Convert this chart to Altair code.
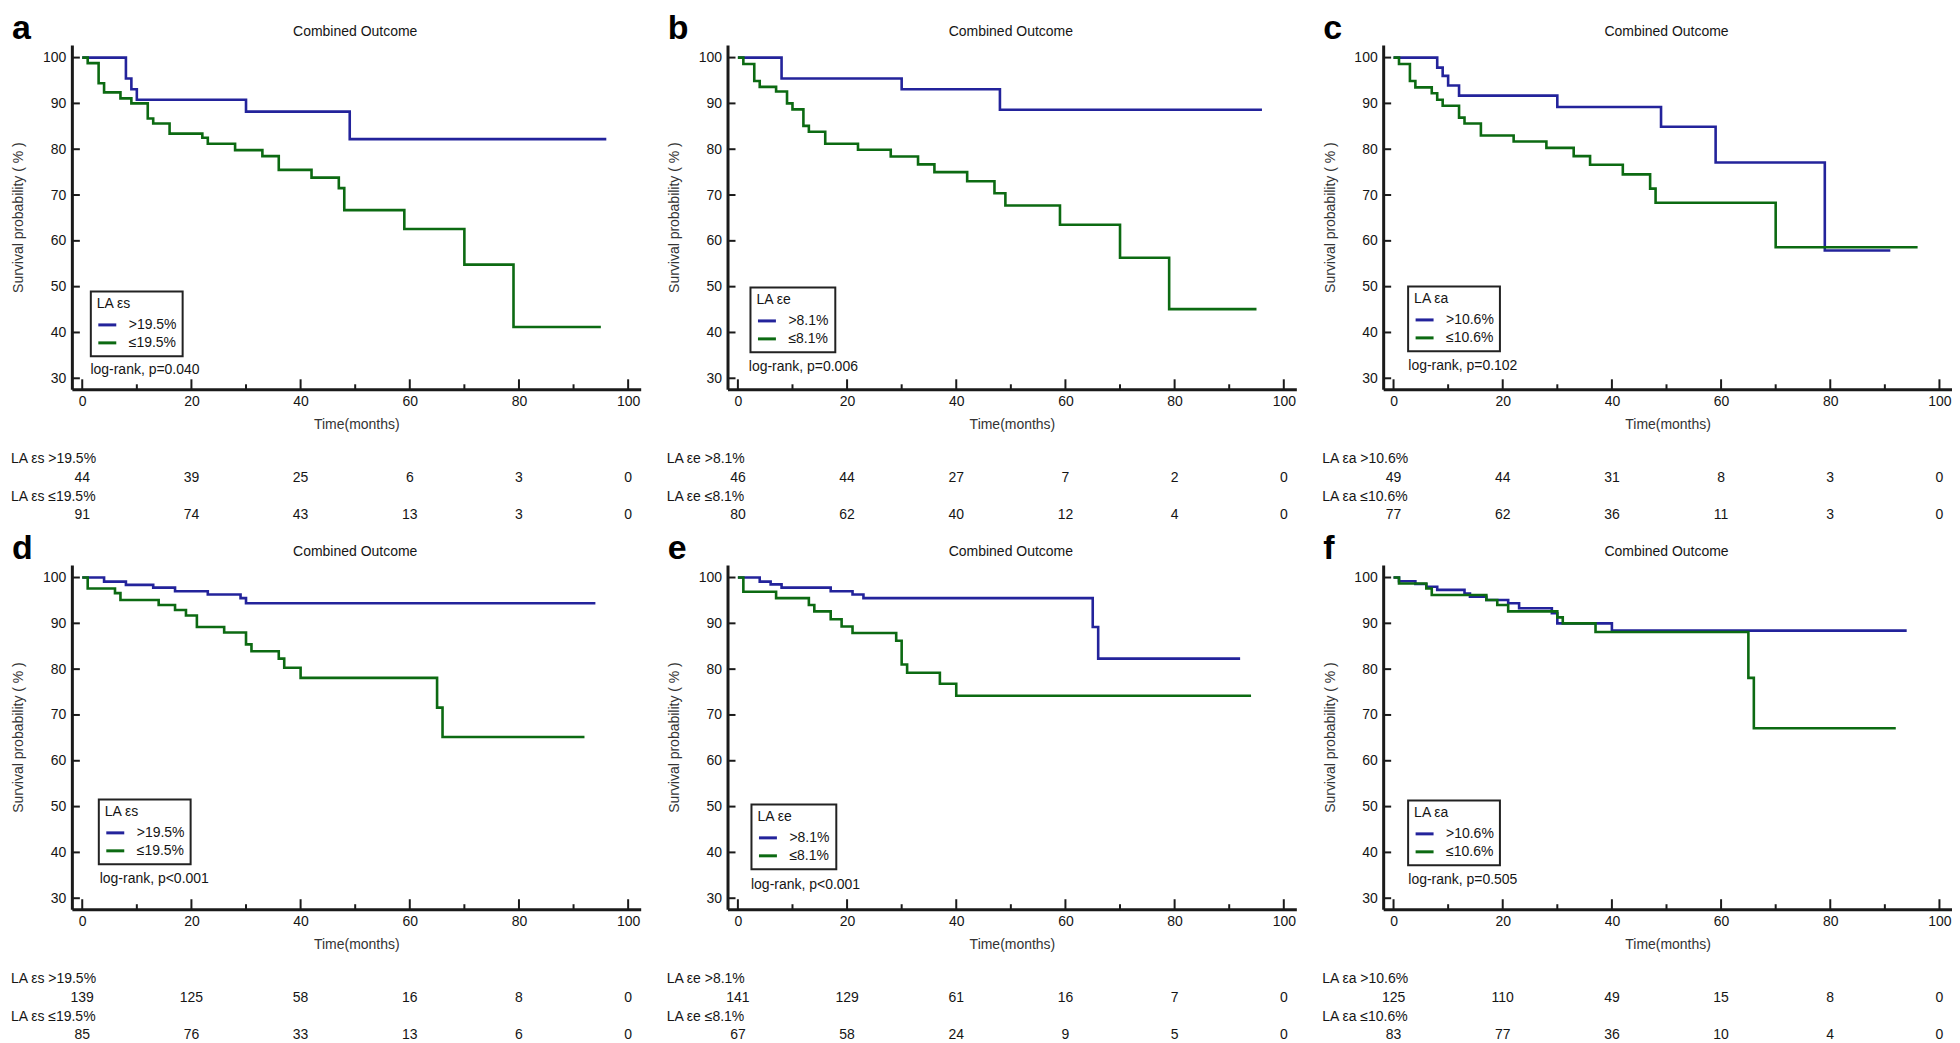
import altair as alt
import pandas as pd

BLUE = "#23239b"
GREEN = "#0c6a12"
TEXT = "#151515"
AXIS_C = "#1a1a1a"
FONT = "Liberation Sans"

W, H = 570, 345
X_DOMAIN = [-1.9, 102.3]
Y_DOMAIN = [27.6, 102.75]

X_LABELS = [0, 20, 40, 60, 80, 100]
X_MINOR = [10, 30, 50, 70, 90]
Y_TICKS = [30, 40, 50, 60, 70, 80, 90, 100]
RISK_TIMES = [0, 20, 40, 60, 80, 100]

# ---- panel a
A_HI_T = [0, 8, 9, 10, 30, 49, 96]
A_HI_S = [100, 95.45, 93.1, 90.8, 88.2, 82.2, 82.2]
A_LO_T = [0, 1, 3, 4, 7, 9, 12, 13, 16, 22, 23, 28, 33, 36, 42, 47, 48, 59, 70, 79, 95]
A_LO_S = [100, 98.8, 94.4, 92.4, 91.1, 90.0, 86.7, 85.6, 83.4, 82.5, 81.2, 79.8, 78.5, 75.5, 73.8, 71.5, 66.7, 62.6, 54.8, 41.2, 41.2]
A_RISK_HI = [44, 39, 25, 6, 3, 0]
A_RISK_LO = [91, 74, 43, 13, 3, 0]

# ---- panel b
B_HI_T = [0, 8, 30, 48, 96]
B_HI_S = [100, 95.45, 93.1, 88.6, 88.6]
B_LO_T = [0, 1, 3, 4, 7, 9, 10, 12, 13, 16, 22, 28, 33, 36, 42, 47, 49, 59, 70, 79, 95]
B_LO_S = [100, 98.6, 94.9, 93.6, 92.6, 90.0, 88.7, 85.1, 83.8, 81.2, 79.9, 78.4, 76.7, 75.0, 73.0, 70.4, 67.7, 63.5, 56.3, 45.1, 45.1]
B_RISK_HI = [46, 44, 27, 7, 2, 0]
B_RISK_LO = [80, 62, 40, 12, 4, 0]

# ---- panel c
C_HI_T = [0, 8, 9, 10, 12, 30, 49, 59, 79, 91]
C_HI_S = [100, 97.8, 96.0, 93.9, 91.7, 89.2, 84.9, 77.1, 57.9, 57.9]
C_LO_T = [0, 1, 3, 4, 7, 8, 9, 12, 13, 16, 22, 28, 33, 36, 42, 47, 48, 70, 96]
C_LO_S = [100, 98.6, 94.9, 93.5, 92.2, 90.8, 89.5, 86.9, 85.6, 83.0, 81.7, 80.3, 78.5, 76.6, 74.5, 71.4, 68.3, 58.6, 58.6]
C_RISK_HI = [49, 44, 31, 8, 3, 0]
C_RISK_LO = [77, 62, 36, 11, 3, 0]

# ---- panel d
D_HI_T = [0, 4, 8, 13, 17, 23, 29, 30, 94]
D_HI_S = [100, 99.1, 98.4, 97.8, 97.0, 96.3, 95.5, 94.4, 94.4]
D_LO_T = [0, 1, 6, 7, 14, 17, 19, 21, 26, 30, 31, 36, 37, 40, 65, 66, 92]
D_LO_S = [100, 97.6, 96.6, 95.1, 94.0, 92.9, 91.7, 89.2, 88.0, 85.4, 83.9, 82.3, 80.3, 78.1, 71.6, 65.2, 65.2]
D_RISK_HI = [139, 125, 58, 16, 8, 0]
D_RISK_LO = [85, 76, 33, 13, 6, 0]

# ---- panel e
E_HI_T = [0, 4, 6, 8, 17, 21, 23, 65, 66, 92]
E_HI_S = [100, 99.1, 98.5, 97.8, 97.0, 96.3, 95.5, 89.2, 82.3, 82.3]
E_LO_T = [0, 1, 7, 13, 14, 17, 19, 21, 29, 30, 31, 37, 40, 94]
E_LO_S = [100, 96.9, 95.5, 94.0, 92.6, 90.9, 89.3, 87.9, 86.2, 81.0, 79.2, 76.8, 74.2, 74.2]
E_RISK_HI = [141, 129, 61, 16, 7, 0]
E_RISK_LO = [67, 58, 24, 9, 5, 0]

# ---- panel f
F_HI_T = [0, 1, 4, 6, 8, 13, 14, 17, 21, 23, 29, 30, 40, 94]
F_HI_S = [100, 99.2, 98.6, 98.0, 97.3, 96.5, 95.8, 95.1, 94.4, 93.3, 92.2, 90.0, 88.4, 88.4]
F_LO_T = [0, 1, 6, 7, 17, 19, 21, 30, 31, 37, 65, 66, 92]
F_LO_S = [100, 98.7, 97.6, 96.2, 95.1, 94.0, 92.6, 91.3, 90.0, 88.1, 78.1, 67.1, 67.1]
F_RISK_HI = [125, 110, 49, 15, 8, 0]
F_RISK_LO = [83, 77, 36, 10, 4, 0]

P_VALUES = ["log-rank, p=0.040", "log-rank, p=0.006", "log-rank, p=0.102",
            "log-rank, p<0.001", "log-rank, p<0.001", "log-rank, p=0.505"]
# annotation anchor (time, survival) for the log-rank text
LR_T = [1.5, 2.0, 2.7, 3.2, 2.4, 2.7]
LR_S = [31.8, 32.4, 32.6, 34.1, 32.8, 34.0]


def xenc(field="t"):
    return alt.X(
        f"{field}:Q",
        scale=alt.Scale(domain=X_DOMAIN, nice=False, zero=False),
        axis=alt.Axis(values=X_LABELS, title="Time(months)", ticks=False, tickSize=0,
                      grid=False, labelPadding=5, titleY=35, titleBaseline="middle",
                      labelFlush=False, labelOverlap=False),
    )


def yenc(field="s"):
    return alt.Y(
        f"{field}:Q",
        scale=alt.Scale(domain=Y_DOMAIN, nice=False, zero=False),
        axis=alt.Axis(values=Y_TICKS, title="Survival probability ( % )", ticks=False,
                      tickSize=0, grid=False, labelPadding=6, titleX=-53, titleY=H / 2,
                      titleBaseline="middle", labelFlush=False, labelOverlap=False),
    )


def panel(letter, var, hi, lo, hi_t, hi_s, lo_t, lo_s, risk_hi, risk_lo, pval, lr_t, lr_s, leg):
    curves = pd.DataFrame({
        "t": hi_t + lo_t,
        "s": hi_s + lo_s,
        "group": [hi] * len(hi_t) + [lo] * len(lo_t),
    })
    lines = alt.Chart(curves).mark_line(interpolate="step-after", strokeWidth=2.6).encode(
        x=xenc(), y=yenc(),
        color=alt.Color(
            "group:N",
            scale=alt.Scale(domain=[hi, lo], range=[BLUE, GREEN]),
            legend=alt.Legend(
                title=var, orient="none", legendX=leg[0], legendY=leg[1],
                symbolType="stroke", symbolSize=324, symbolStrokeWidth=3,
                strokeColor="#222222", padding=6, titleFontSize=14, labelFontSize=14,
                titleFontWeight="normal", labelOffset=11, rowPadding=0, titlePadding=3,
                labelExpr="datum.label + '        '", titleColor=TEXT, labelColor=TEXT,
                titleFont=FONT, labelFont=FONT,
            ),
        ),
    )
    major = alt.Chart(pd.DataFrame({"t": X_LABELS})).mark_rule(color=AXIS_C, strokeWidth=2).encode(
        x=xenc(), y=alt.value(H), y2=alt.value(H - 10))
    minor = alt.Chart(pd.DataFrame({"t": X_MINOR})).mark_rule(color=AXIS_C, strokeWidth=2).encode(
        x=xenc(), y=alt.value(H), y2=alt.value(H - 5))
    yt = alt.Chart(pd.DataFrame({"s": Y_TICKS})).mark_rule(color=AXIS_C, strokeWidth=2).encode(
        y=yenc(), x=alt.value(0), x2=alt.value(8))
    lr = alt.Chart(pd.DataFrame({"t": [lr_t], "s": [lr_s], "txt": [pval]})).mark_text(
        align="left", baseline="middle", fontSize=14, color=TEXT).encode(
        x=xenc(), y=yenc(), text="txt:N")
    title = alt.Chart(pd.DataFrame({"t": [50], "txt": ["Combined Outcome"]})).mark_text(
        baseline="middle", fontSize=14, color=TEXT).encode(
        x=xenc(), y=alt.value(-13), text="txt:N")
    let = alt.Chart(pd.DataFrame({"txt": [letter]})).mark_text(
        align="left", baseline="top", fontSize=34, fontWeight="bold", color="#000000").encode(
        x=alt.value(-60), y=alt.value(-33), text="txt:N")
    lab_hi = alt.Chart(pd.DataFrame({"txt": [f"{var} {hi}"]})).mark_text(
        align="left", baseline="middle", fontSize=14, color=TEXT).encode(
        x=alt.value(-61), y=alt.value(H + 70), text="txt:N")
    lab_lo = alt.Chart(pd.DataFrame({"txt": [f"{var} {lo}"]})).mark_text(
        align="left", baseline="middle", fontSize=14, color=TEXT).encode(
        x=alt.value(-61), y=alt.value(H + 108), text="txt:N")
    n_hi = alt.Chart(pd.DataFrame({"t": RISK_TIMES, "n": risk_hi})).mark_text(
        baseline="middle", fontSize=14, color=TEXT).encode(
        x=xenc(), y=alt.value(H + 89), text="n:Q")
    n_lo = alt.Chart(pd.DataFrame({"t": RISK_TIMES, "n": risk_lo})).mark_text(
        baseline="middle", fontSize=14, color=TEXT).encode(
        x=xenc(), y=alt.value(H + 126), text="n:Q")
    return alt.layer(major, minor, yt, lines, lr, title, let, lab_hi, lab_lo, n_hi, n_lo).properties(
        width=W, height=H)


pa = panel("a", "LA εs", ">19.5%", "≤19.5%", A_HI_T, A_HI_S, A_LO_T, A_LO_S, A_RISK_HI, A_RISK_LO,
           P_VALUES[0], LR_T[0], LR_S[0], (19, 247))
pb = panel("b", "LA εe", ">8.1%", "≤8.1%", B_HI_T, B_HI_S, B_LO_T, B_LO_S, B_RISK_HI, B_RISK_LO,
           P_VALUES[1], LR_T[1], LR_S[1], (23, 243))
pc = panel("c", "LA εa", ">10.6%", "≤10.6%", C_HI_T, C_HI_S, C_LO_T, C_LO_S, C_RISK_HI, C_RISK_LO,
           P_VALUES[2], LR_T[2], LR_S[2], (25, 242))
pd_ = panel("d", "LA εs", ">19.5%", "≤19.5%", D_HI_T, D_HI_S, D_LO_T, D_LO_S, D_RISK_HI, D_RISK_LO,
            P_VALUES[3], LR_T[3], LR_S[3], (27, 235))
pe = panel("e", "LA εe", ">8.1%", "≤8.1%", E_HI_T, E_HI_S, E_LO_T, E_LO_S, E_RISK_HI, E_RISK_LO,
           P_VALUES[4], LR_T[4], LR_S[4], (24, 240))
pf = panel("f", "LA εa", ">10.6%", "≤10.6%", F_HI_T, F_HI_S, F_LO_T, F_LO_S, F_RISK_HI, F_RISK_LO,
           P_VALUES[5], LR_T[5], LR_S[5], (25, 236))

row1 = alt.hconcat(pa, pb, pc, spacing=26).resolve_scale(color="independent")
row2 = alt.hconcat(pd_, pe, pf, spacing=26).resolve_scale(color="independent")

chart = (
    alt.vconcat(row1, row2, spacing=10)
    .resolve_scale(color="independent")
    .properties(padding={"left": 3, "top": 3, "right": 0, "bottom": 0}, background="white")
    .configure(font=FONT)
    .configure_view(stroke=None)
    .configure_axis(domainColor=AXIS_C, domainWidth=3, labelFont=FONT, labelFontSize=14,
                    labelColor=TEXT, titleFont=FONT, titleFontSize=14, titleColor="#333333",
                    titleFontWeight="normal", grid=False)
    .configure_legend(strokeWidth=2)
)

chart.save("out.html", embed_options={"renderer": "svg", "actions": False})
